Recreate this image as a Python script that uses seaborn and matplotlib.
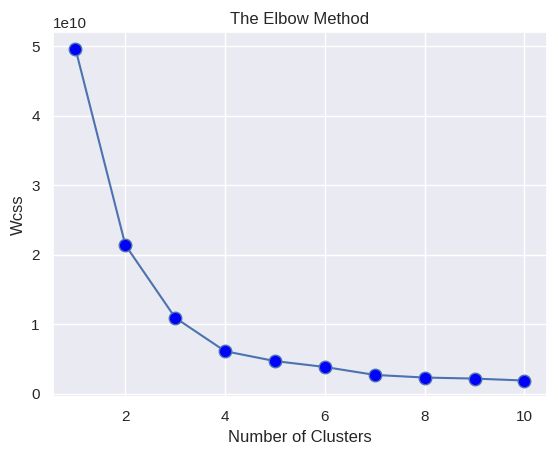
import matplotlib
matplotlib.use('Agg')
import seaborn as sns
import matplotlib.pyplot as plt

# Elbow curve values
clusters = [1, 2, 3, 4, 5, 6, 7, 8, 9, 10]
wcss = [4.967e10, 2.142e10, 1.095e10, 0.614e10, 0.472e10,
        0.387e10, 0.273e10, 0.235e10, 0.220e10, 0.192e10]

sns.set_theme(style='darkgrid')
plt.rcParams['font.family'] = ['Liberation Sans', 'DejaVu Sans']

fig = plt.figure(figsize=(5.58, 4.57), dpi=100)
ax = fig.add_subplot(111)
fig.subplots_adjust(left=0.095, right=0.980, top=0.930, bottom=0.131)

sns.lineplot(x=clusters, y=wcss, marker='o', markersize=9,
             markerfacecolor='blue', markeredgecolor='#4c72b0',
             markeredgewidth=1, ax=ax)

ax.set_title('The Elbow Method')
ax.set_xlabel('Number of Clusters')
ax.set_ylabel('Wcss')

fig.savefig('out.png', dpi=100)
